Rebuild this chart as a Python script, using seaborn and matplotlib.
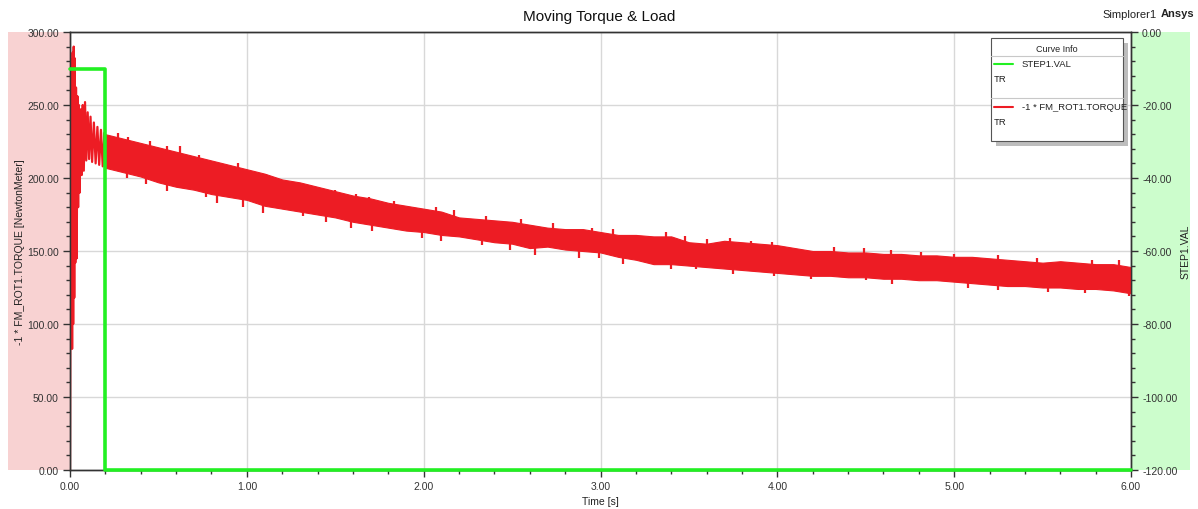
import matplotlib
matplotlib.use("Agg")
import matplotlib.pyplot as plt
import seaborn as sns
import pandas as pd
import numpy as np
from matplotlib.patches import Rectangle
from matplotlib.lines import Line2D
from matplotlib.ticker import MultipleLocator, FormatStrFormatter

# ---------------- data ----------------
# STEP1.VAL (right axis)
step_t = [0.0, 0.2, 0.2, 6.0]
step_val = [-10.0, -10.0, -120.0, -120.0]

# start-up transient of -1*FM_ROT1.TORQUE
start_t = [0.000, 0.002, 0.004, 0.006, 0.009, 0.012, 0.015, 0.018, 0.021, 0.024,
           0.027, 0.030, 0.034, 0.038, 0.042, 0.046, 0.050, 0.055, 0.060, 0.066,
           0.072, 0.078, 0.085, 0.092, 0.100, 0.108, 0.116, 0.125, 0.135, 0.145,
           0.155, 0.165, 0.175, 0.185, 0.195, 0.200]
start_torque = [0.0, 120.0, 281.0, 96.0, 278.0, 83.0, 286.0, 100.0, 290.0, 118.0,
                282.0, 142.0, 262.0, 145.0, 256.0, 180.0, 250.0, 190.0, 247.0, 202.0,
                250.0, 205.0, 252.0, 212.0, 245.0, 213.0, 242.0, 211.0, 238.0, 210.0,
                235.0, 209.0, 233.0, 208.0, 231.0, 220.0]

# envelope of the oscillating torque, 0.2 s .. 6.0 s
env_t = [round(0.2 + 0.1 * i, 1) for i in range(59)]
torque_hi = [230, 227, 224, 221, 218, 215, 212, 209, 206, 203,
             199, 197, 194, 191, 188, 186, 183, 181, 179, 177,
             173, 172, 171, 170, 168, 166, 165, 165, 163, 161,
             161, 160, 160, 156, 155, 157, 156, 155, 154, 152,
             150, 150, 149, 149, 148, 148, 147, 147, 146, 146,
             145, 144, 143, 142, 143, 142, 141, 141, 139]
torque_lo = [207, 204, 201, 197, 194, 192, 189, 187, 185, 181,
             179, 177, 175, 173, 170, 168, 166, 164, 163, 161,
             160, 158, 156, 155, 152, 153, 151, 150, 149, 146,
             144, 141, 141, 140, 139, 138, 137, 136, 135, 134,
             133, 133, 132, 132, 131, 131, 130, 130, 129, 128,
             127, 126, 126, 125, 125, 124, 124, 123, 121]

# individual peaks sticking out above the band
peak_hi_t = [0.27, 0.33, 0.45, 0.55, 0.62, 0.73, 0.95, 1.11, 1.32, 1.45,
             1.50, 1.62, 1.69, 1.83, 2.07, 2.17, 2.35, 2.55, 2.73, 2.95,
             3.07, 3.37, 3.48, 3.60, 3.73, 3.85, 3.97, 4.32, 4.49,
             4.64, 4.81, 5.00, 5.25, 5.47, 5.78, 5.93]
peak_hi_val = [231, 228, 225, 222, 222, 216, 210, 203, 196, 191,
               192, 189, 187, 184, 180, 178, 174, 172, 169, 166,
               165, 163, 160, 158, 159, 157, 156, 153, 152,
               151, 149.5, 148, 147, 145, 144, 143.5]
# individual dips sticking out below the band
peak_lo_t = [0.32, 0.43, 0.55, 0.62, 0.77, 0.83, 0.98, 1.09, 1.32, 1.45,
             1.59, 1.71, 1.99, 2.10, 2.33, 2.49, 2.63, 2.88, 2.99,
             3.13, 3.40, 3.54, 3.75, 3.98, 4.19, 4.50,
             4.65, 5.08, 5.25, 5.53, 5.74, 5.99]
peak_lo_val = [200, 196, 191, 193, 187, 183, 180, 176, 174, 170,
               166, 164, 159, 157, 154, 151, 147, 145.5, 145.5,
               141, 137.5, 137.5, 134.5, 133, 130.5, 130,
               127.5, 124.5, 123.5, 122, 121, 119.5]

x_ticks = [0, 1, 2, 3, 4, 5, 6]
left_ticks = [0, 50, 100, 150, 200, 250, 300]
right_ticks = [0, -20, -40, -60, -80, -100, -120]

# ---------------- figure ----------------
sns.set_style("white")
plt.rcParams['font.family'] = ['Liberation Sans', 'DejaVu Sans']
plt.rcParams['axes.unicode_minus'] = False

W, H = 1198, 510
fig = plt.figure(figsize=(W / 100, H / 100), dpi=100)


def fx(px):
    return px / W


def fy(py):
    return 1 - py / H


L, R, T, B = 70, 1131, 33, 471
ax = fig.add_axes([fx(L), fy(B), fx(R) - fx(L), fy(T) - fy(B)])

# side colour bands (behind the axes)
fig.patches.append(Rectangle((fx(8), fy(B)), fx(L) - fx(8), fy(T) - fy(B),
                             transform=fig.transFigure, facecolor='#F8D2D2',
                             edgecolor='none', zorder=-5))
fig.patches.append(Rectangle((fx(R), fy(B)), fx(1190) - fx(R), fy(T) - fy(B),
                             transform=fig.transFigure, facecolor='#CCFDCC',
                             edgecolor='none', zorder=-5))

red = '#ED1C24'
green = '#22F022'

# torque band
ax.fill_between(env_t, torque_lo, torque_hi, color=red, linewidth=0.8,
                edgecolor=red, zorder=3)
base_hi = np.interp(peak_hi_t, env_t, torque_hi)
base_lo = np.interp(peak_lo_t, env_t, torque_lo)
ax.vlines(peak_hi_t, base_hi - 2, peak_hi_val, color=red, linewidth=1.6, zorder=3)
ax.vlines(peak_lo_t, base_lo + 2, peak_lo_val, color=red, linewidth=1.6, zorder=3)
df_start = pd.DataFrame({'t': start_t, 'v': start_torque})
sns.lineplot(data=df_start, x='t', y='v', ax=ax, color=red, linewidth=1.6,
             sort=False, estimator=None, zorder=3)

ax.set_xlim(0, 6)
ax.set_ylim(0, 300)
ax.set_xticks(x_ticks)
ax.set_yticks(left_ticks)
ax.xaxis.set_minor_locator(MultipleLocator(0.2))
ax.yaxis.set_minor_locator(MultipleLocator(10))
ax.xaxis.set_major_formatter(FormatStrFormatter('%.2f'))
ax.yaxis.set_major_formatter(FormatStrFormatter('%.2f'))
ax.grid(True, which='major', color='#D8D8D8', linewidth=1.0)
ax.set_axisbelow(True)
ax.tick_params(axis='both', which='both', direction='out', colors='#333333',
               labelsize=7.5, length=5, width=1, bottom=True, left=True, pad=3)
ax.tick_params(axis='both', which='minor', length=3)
ax.set_xlabel('Time [s]', fontsize=7.5, color='#222222')
ax.set_ylabel('-1 * FM_ROT1.TORQUE [NewtonMeter]', fontsize=7.5, color='#222222')
ax.xaxis.set_label_coords(0.5, (B - 497) / (B - T))
ax.yaxis.set_label_coords((25 - L) / (R - L), 0.5)
for s in ax.spines.values():
    s.set_color('#333333')
    s.set_linewidth(1.0)

# right axis with the step
ax2 = ax.twinx()
df_step = pd.DataFrame({'t': step_t, 'v': step_val})
sns.lineplot(data=df_step, x='t', y='v', ax=ax2, color=green, linewidth=2.6,
             sort=False, estimator=None, clip_on=False, zorder=4)
ax2.set_ylim(-120, 0)
ax2.set_yticks(right_ticks)
ax2.yaxis.set_minor_locator(MultipleLocator(4))
ax2.yaxis.set_major_formatter(FormatStrFormatter('%.2f'))
ax2.tick_params(axis='y', which='both', direction='out', colors='#333333',
                labelsize=7.5, length=5, width=1, right=True, pad=3)
ax2.tick_params(axis='y', which='minor', length=3)
ax2.set_ylabel('STEP1.VAL', fontsize=7.5, color='#222222')
ax2.yaxis.set_label_coords((1181 - L) / (R - L), 0.5)
ax2.set_xlabel('')
ax2.grid(False)
for s in ax2.spines.values():
    s.set_color('#333333')
    s.set_linewidth(1.0)

# titles
fig.text(0.5, fy(17), 'Moving Torque & Load', ha='center', va='center',
         fontsize=11, color='#111111')
fig.text(fx(1130), fy(15), 'Simplorer1', ha='center', va='center',
         fontsize=8, color='#222222')
fig.text(fx(1178), fy(14), 'Ansys', ha='center', va='center',
         fontsize=8, color='#222222', fontweight='bold')

# "Curve Info" box
bx0, bx1, by0, by1 = 991, 1123, 39, 142
fig.patches.append(Rectangle((fx(bx0 + 5), fy(by1 + 5)), fx(bx1) - fx(bx0), fy(by0) - fy(by1),
                             transform=fig.transFigure, facecolor='#BDBDBD',
                             edgecolor='none', zorder=10))
fig.patches.append(Rectangle((fx(bx0), fy(by1)), fx(bx1) - fx(bx0), fy(by0) - fy(by1),
                             transform=fig.transFigure, facecolor='white',
                             edgecolor='#555555', linewidth=0.8, zorder=11))
for yy in (56.7, 99.3):
    fig.lines.append(Line2D([fx(bx0), fx(bx1)], [fy(yy), fy(yy)],
                            transform=fig.transFigure, color='#C8C8C8',
                            linewidth=0.8, zorder=12))
fig.text(fx(1057), fy(49), 'Curve Info', ha='center', va='center', fontsize=6.5,
         color='#222222', zorder=13)
fig.lines.append(Line2D([fx(994), fx(1013)], [fy(64.5), fy(64.5)],
                        transform=fig.transFigure, color=green, linewidth=1.5, zorder=12))
fig.text(fx(1022), fy(64.5), 'STEP1.VAL', ha='left', va='center', fontsize=6.8,
         color='#222222', zorder=13)
fig.text(fx(994), fy(80), 'TR', ha='left', va='center', fontsize=6.8,
         color='#222222', zorder=13)
fig.lines.append(Line2D([fx(994), fx(1013)], [fy(107.7), fy(107.7)],
                        transform=fig.transFigure, color=red, linewidth=1.5, zorder=12))
fig.text(fx(1022), fy(107.7), '-1 * FM_ROT1.TORQUE', ha='left', va='center',
         fontsize=6.8, color='#222222', zorder=13)
fig.text(fx(994), fy(122.5), 'TR', ha='left', va='center', fontsize=6.8,
         color='#222222', zorder=13)

fig.savefig('out.png', dpi=100)
